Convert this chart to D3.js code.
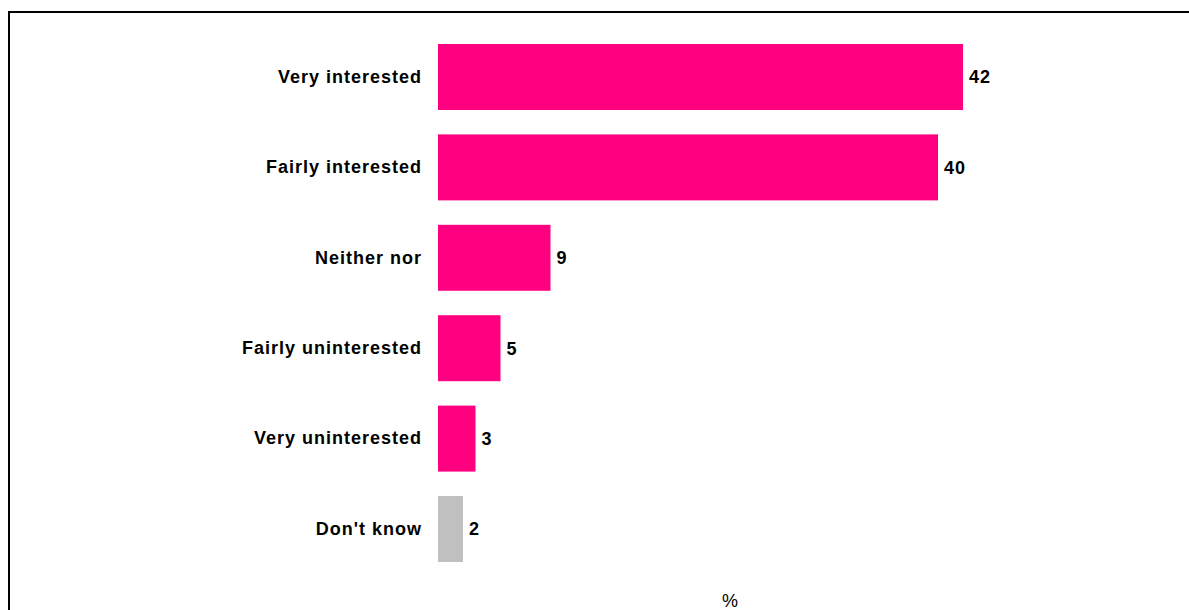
<!DOCTYPE html>
<html>
<head>
<meta charset="utf-8">
<script src="https://cdn.jsdelivr.net/npm/d3@7"></script>
<style>
  html, body { margin: 0; padding: 0; background: #fff; }
  svg { display: block; }
</style>
</head>
<body>
<div id="chart"></div>
<script>
// categories and values
const categories = ["Very interested", "Fairly interested", "Neither nor",
                    "Fairly uninterested", "Very uninterested", "Don't know"];
const values = [42, 40, 9, 5, 3, 2];
const barColors = ["#FF0080", "#FF0080", "#FF0080", "#FF0080", "#FF0080", "#C0C0C0"];
const axisLabel = "%";

const width = 1189, height = 610;

const svg = d3.select("#chart")
  .append("svg")
    .attr("width", width)
    .attr("height", height);

// frame (runs off the right and bottom edge)
svg.append("path")
    .attr("d", `M9,${height} V12 H${width}`)
    .attr("fill", "none")
    .attr("stroke", "#000")
    .attr("stroke-width", 2);

const x = d3.scaleLinear()
    .domain([0, 42])
    .range([438, 963]);

const y = d3.scaleBand()
    .domain(categories)
    .range([31.8, 574.2])
    .paddingInner(0.27)
    .paddingOuter(0.135);

const data = categories.map((c, i) => ({ cat: c, value: values[i], color: barColors[i] }));

svg.selectAll("rect.bar")
  .data(data)
  .join("rect")
    .attr("class", "bar")
    .attr("x", x(0))
    .attr("y", d => y(d.cat))
    .attr("width", d => x(d.value) - x(0))
    .attr("height", y.bandwidth())
    .attr("fill", d => d.color);

// category labels
const yAxis = svg.append("g")
    .attr("transform", `translate(${x(0)},0)`)
    .call(d3.axisLeft(y).tickSize(0).tickPadding(16));
yAxis.select(".domain").remove();
yAxis.selectAll("text")
    .attr("font-family", "Liberation Sans, Arial, sans-serif")
    .attr("font-size", 18)
    .attr("font-weight", "bold")
    .attr("letter-spacing", 1)
    .attr("fill", "#000");

// value labels
svg.selectAll("text.val")
  .data(data)
  .join("text")
    .attr("class", "val")
    .attr("x", d => x(d.value) + 6)
    .attr("y", d => y(d.cat) + y.bandwidth() / 2)
    .attr("dy", "0.35em")
    .attr("font-family", "Liberation Sans, Arial, sans-serif")
    .attr("font-size", 18)
    .attr("font-weight", "bold")
    .attr("letter-spacing", 1)
    .text(d => d.value);

svg.append("text")
    .attr("x", 730)
    .attr("y", 607)
    .attr("text-anchor", "middle")
    .attr("font-family", "Liberation Sans, Arial, sans-serif")
    .attr("font-size", 18)
    .text(axisLabel);
</script>
</body>
</html>
